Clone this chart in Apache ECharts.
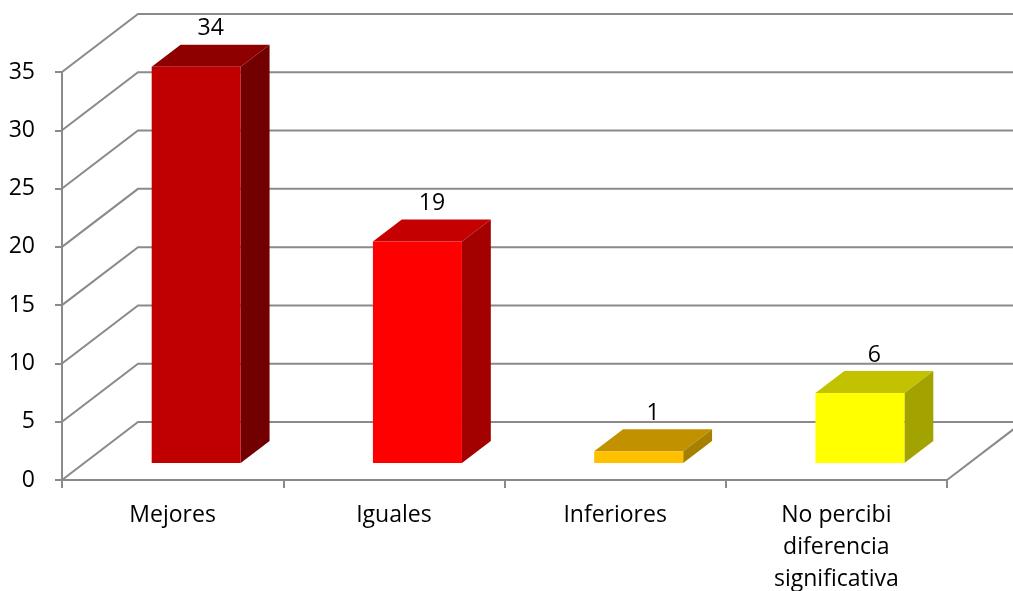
<!DOCTYPE html>
<html>
<head>
<meta charset="utf-8">
<script src="https://cdn.jsdelivr.net/npm/echarts@6/dist/echarts.min.js"></script>
<style>
html,body{margin:0;padding:0;background:#fff;}
#c{width:1013px;height:591px;}
</style>
</head>
<body>
<div id="c"></div>
<script>
const categories = ['Mejores', 'Iguales', 'Inferiores', 'No percibi\ndiferencia\nsignificativa'];
const values = [34, 19, 1, 6];
const yTicks = [0, 5, 10, 15, 20, 25, 30, 35];

// styles (not data)
const frontColors = ['#C00000', '#FF0000', '#FFC000', '#FFFF00'];
const topColors   = ['#8E0000', '#C40000', '#C29100', '#C2C200'];
const sideColors  = ['#730000', '#A30000', '#A68000', '#A3A300'];
const GRID_COLOR = '#8a8a8a';
const LW = 2;
const FONT = 'Open Sans';
const DX = 76, DY = 58;        // depth of the 3D box
const F0 = 0.31, F1 = 0.69;    // bar depth fraction (front, back)
const BAR_W = 89;

const chart = echarts.init(document.getElementById('c'));

const option = {
  animation: false,
  grid: { left: 62, right: 66, top: 72, bottom: 111, containLabel: false, outerBoundsMode: 'none' },
  xAxis: {
    type: 'category',
    data: categories,
    axisLine: { lineStyle: { color: GRID_COLOR, width: LW } },
    axisTick: { show: true, length: 8, lineStyle: { color: GRID_COLOR, width: LW } },
    axisLabel: { color: '#000', fontFamily: FONT, fontSize: 23, lineHeight: 32, margin: 19, interval: 0 }
  },
  yAxis: {
    type: 'value',
    min: 0, max: 35, interval: 5,
    axisLine: { show: true, lineStyle: { color: GRID_COLOR, width: LW } },
    axisTick: { show: true, length: 7, lineStyle: { color: GRID_COLOR, width: LW } },
    splitLine: { show: false },
    axisLabel: { color: '#000', fontFamily: FONT, fontSize: 23, margin: 27 }
  },
  series: [
    {
      type: 'custom',
      name: 'walls',
      clip: false,
      z: 1,
      silent: true,
      data: yTicks.map(v => [0, v]),
      renderItem: function (params, api) {
        const cs = params.coordSys;
        const y = api.coord([0, api.value(1)])[1];
        const x0 = cs.x, x1 = cs.x + cs.width;
        const children = [{
          type: 'polyline',
          shape: { points: [[x0, y], [x0 + DX, y - DY], [x1 + DX, y - DY]] },
          style: { stroke: GRID_COLOR, lineWidth: LW, fill: null }
        }];
        if (api.value(1) === 0) {
          children.push({
            type: 'line',
            shape: { x1: x1, y1: y, x2: x1 + DX, y2: y - DY },
            style: { stroke: GRID_COLOR, lineWidth: LW }
          });
        }
        return { type: 'group', children: children };
      }
    },
    {
      type: 'custom',
      name: 'bars',
      clip: false,
      z: 5,
      data: values.map((v, i) => [i, v]),
      renderItem: function (params, api) {
        const i = api.value(0);
        const v = api.value(1);
        const base = api.coord([i, 0]);
        const topP = api.coord([i, v]);
        const h = base[1] - topP[1];
        const cx = base[0] + F0 * DX;
        const by = base[1] - F0 * DY + 1;
        const l = cx - BAR_W / 2, r = cx + BAR_W / 2;
        const t = by - h;
        const ddx = (F1 - F0) * DX, ddy = (F1 - F0) * DY;
        const idx = params.dataIndex;
        return {
          type: 'group',
          children: [
            {
              type: 'polygon',
              shape: { points: [[l, t], [r, t], [r + ddx, t - ddy], [l + ddx, t - ddy]] },
              style: { fill: topColors[idx] }
            },
            {
              type: 'polygon',
              shape: { points: [[r, t], [r + ddx, t - ddy], [r + ddx, by - ddy], [r, by]] },
              style: { fill: sideColors[idx] }
            },
            {
              type: 'rect',
              shape: { x: l, y: t, width: BAR_W, height: h },
              style: { fill: frontColors[idx] }
            },
            {
              type: 'text',
              x: cx + ddx / 2,
              y: t - ddy - 16,
              style: {
                text: String(v),
                fill: '#000',
                font: '23px "' + FONT + '"',
                align: 'center',
                verticalAlign: 'middle'
              }
            }
          ]
        };
      }
    }
  ]
};
chart.setOption(option);
</script>
</body>
</html>
